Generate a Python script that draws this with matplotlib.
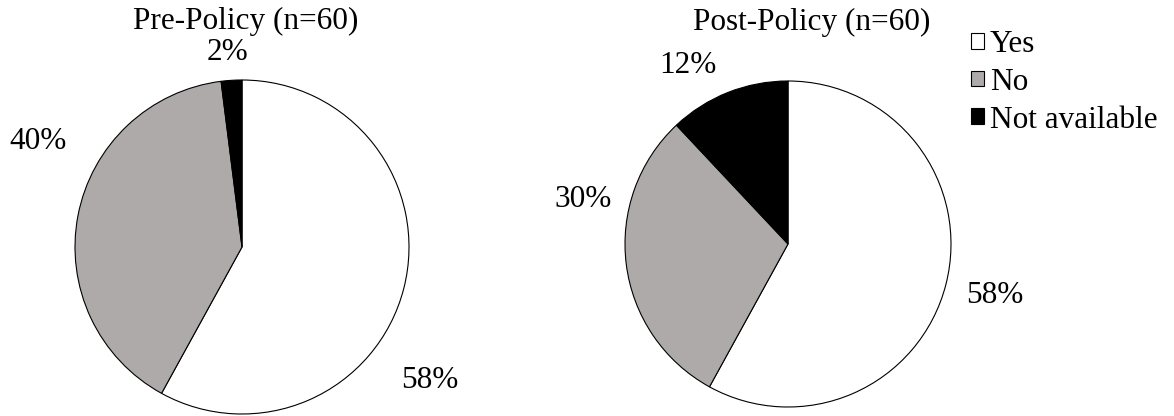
import matplotlib
matplotlib.use("Agg")
import matplotlib.pyplot as plt

categories = ["Yes", "No", "Not available"]
pre_values = [58, 40, 2]
post_values = [58, 30, 12]
titles = ["Pre-Policy (n=60)", "Post-Policy (n=60)"]
colors = ["#FFFFFF", "#AEAAAA", "#000000"]

plt.rcParams['font.family'] = ['Liberation Serif', 'DejaVu Serif']
FS = 22.5

fig = plt.figure(figsize=(11.74, 4.16), dpi=100)
W, H = 1174, 416

# layout: (center x px, center y px from top, radius px)
layouts = [(242, 247, 167), (788, 244, 163)]
label_pos = [
    [(1.126, -0.802), (-1.222, 0.629), (-0.084, 1.165)],
    [(1.270, -0.313), (-1.258, 0.270), (-0.613, 1.098)],
]
title_pos = [(0.02, 1.35), (0.147, 1.36)]

wedges_all = []
for i, (vals, (cx, cy, r)) in enumerate(zip([pre_values, post_values], layouts)):
    ax = fig.add_axes([(cx - r) / W, (H - cy - r) / H, 2 * r / W, 2 * r / H])
    wedges, _ = ax.pie(vals, colors=colors, startangle=90, counterclock=False,
                       radius=1, wedgeprops=dict(edgecolor="black", linewidth=0.8))
    ax.set_xlim(-1, 1)
    ax.set_ylim(-1, 1)
    ax.set_aspect('auto')
    ax.axis('off')
    for v, (lx, ly) in zip(vals, label_pos[i]):
        ax.text(lx, ly, f"{v}%", ha="center", va="center", fontsize=FS, clip_on=False)
    tx, ty = title_pos[i]
    ax.text(tx, ty, titles[i], ha="center", va="center", fontsize=FS, clip_on=False)
    wedges_all.append(wedges)

fig.legend(wedges_all[0], categories, loc="upper left",
           bbox_to_anchor=(971 / W, 1 - 30 / H), frameon=False, fontsize=FS,
           handlelength=0.4, handleheight=0.4, handletextpad=0.2,
           labelspacing=0.28, borderpad=0, borderaxespad=0)

fig.savefig("out.png", dpi=100)
